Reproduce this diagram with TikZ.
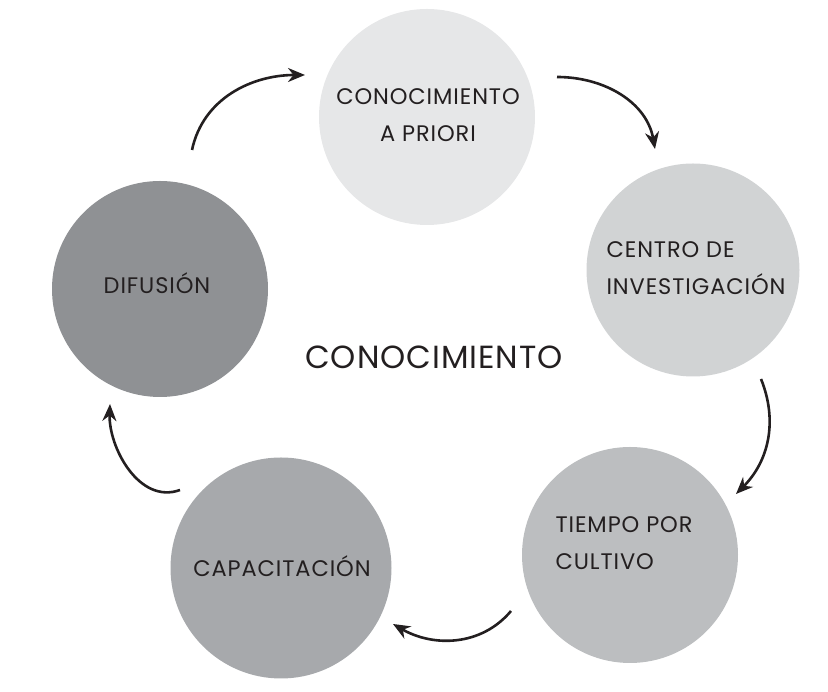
\documentclass[tikz,border=0pt]{standalone}
\usepackage{fontspec}
\setmainfont{Poppins}
\usetikzlibrary{arrows.meta}
\definecolor{txtgray}{HTML}{231F20}
\definecolor{gray10}{HTML}{E6E7E8}
\definecolor{gray20}{HTML}{D1D3D4}
\definecolor{gray30}{HTML}{BCBEC0}
\definecolor{gray40}{HTML}{A7A9AC}
\definecolor{gray50}{HTML}{8F9194}
\begin{document}
\begin{tikzpicture}[x=1pt,y=1pt]
                \tikzset{stage/.style = {shape=circle,minimum size=216pt,inner sep=0pt}}
                \tikzset{label/.style = {text=txtgray,font=\fontsize{22.5}{36.5}\selectfont\addfontfeature{LetterSpace=4},align=left}}
                \tikzset{edge/.style = {-{Stealth[length=17pt,width=14pt]},line width=2.6pt,draw=txtgray}}
                \useasboundingbox (0,0) rectangle (828,692);
                \node[stage, fill=gray10] (priori) at (427, 575) {};
                \node[stage, fill=gray20, minimum size=213pt] (centro) at (693, 422) {};
                \node[stage, fill=gray30] (tiempo) at (630, 137) {};
                \node[stage, fill=gray40, minimum size=221pt] (capac) at (281, 124) {};
                \node[stage, fill=gray50] (difus) at (160, 403) {};

                \node[label, align=center] (tpriori) at (428, 577) {CONOCIMIENTO\\A PRIORI};
                \node[label, anchor=west] (tcentro) at (603, 424) {CENTRO DE\\INVESTIGACIÓN};
                \node[label, anchor=west] (ttiempo) at (552, 149) {TIEMPO POR\\CULTIVO};
                \node[label] (tcapac) at (282, 126) {CAPACITACIÓN};
                \node[label] (tdifus) at (157, 409) {DIFUSIÓN};
                \node[text=txtgray, font=\fontsize{32}{38}\selectfont\addfontfeature{LetterSpace=3}] (centre) at (434, 335) {CONOCIMIENTO};

                \coordinate (s1) at (192, 542);
                \coordinate (e1) at (305, 617);
                \coordinate (s2) at (557, 615);
                \coordinate (e2) at (655, 543);
                \coordinate (s3) at (761, 313);
                \coordinate (e3) at (736, 198);
                \coordinate (s4) at (511, 81);
                \coordinate (e4) at (393, 68);
                \coordinate (s5) at (180, 202);
                \coordinate (e5) at (110, 288);

                \draw[edge] (s1) to[out=78, in=180] (e1);
                \draw[edge] (s2) to[out=0, in=100] (e2);
                \draw[edge] (s3) to[out=-68, in=45] (e3);
                \draw[edge] (s4) to[out=230, in=-30] (e4);
                \draw[edge] (s5) to[out=200, in=-92] (e5);
            \end{tikzpicture}
\end{document}
